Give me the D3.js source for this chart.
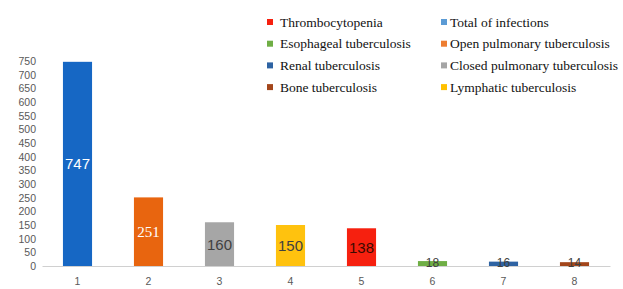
<!DOCTYPE html>
<html>
<head>
<meta charset="utf-8">
<script src="https://cdn.jsdelivr.net/npm/d3@7"></script>
<style>
  body { margin: 0; background: #fff; overflow: hidden; }
  svg { display: block; }
</style>
</head>
<body>
<div id="chart"></div>
<script>
var categories = ["1", "2", "3", "4", "5", "6", "7", "8"];
var values = [747, 251, 160, 150, 138, 18, 16, 14];
var barColors = ["#1667c4", "#e8650f", "#a6a6a6", "#ffc20e", "#f6200f", "#6fae45", "#2e63a3", "#a3461b"];
var labelColors = ["#ffffff", "#ffffff", "#404040", "#404040", "#3a0a00", "#404040", "#404040", "#404040"];
var yTicks = d3.range(0, 751, 50);

var legendNames = ["Thrombocytopenia", "Esophageal tuberculosis", "Renal tuberculosis", "Bone tuberculosis",
                   "Total of infections", "Open pulmonary tuberculosis", "Closed pulmonary tuberculosis", "Lymphatic tuberculosis"];
var legendColors = ["#f6200f", "#6fae45", "#2e63a3", "#a3461b", "#5b9bd5", "#ed7d31", "#a5a5a5", "#ffc000"];

var width = 623, height = 289;
var serif = "Liberation Serif, Times New Roman, DejaVu Serif, serif";
var sans = "Liberation Sans, Arial, sans-serif";

var svg = d3.select("#chart").append("svg")
    .attr("width", width)
    .attr("height", height);

var x = d3.scaleBand()
    .domain(categories)
    .range([42, 610])
    .paddingInner(0.59)
    .paddingOuter(0.295);

var y = d3.scaleLinear()
    .domain([0, 750])
    .range([266, 61]);

// y labels (no axis line)
var yAxis = svg.append("g")
    .attr("transform", "translate(39,0)")
    .call(d3.axisLeft(y).tickValues(yTicks).tickSize(0).tickPadding(3));
yAxis.select(".domain").remove();
yAxis.selectAll("text")
    .attr("fill", "#595959")
    .attr("font-family", sans)
    .attr("font-size", 10.5);

svg.selectAll("rect.bar")
    .data(values)
    .enter().append("rect")
    .attr("class", "bar")
    .attr("x", (d, i) => x(categories[i]))
    .attr("y", d => y(d))
    .attr("width", x.bandwidth())
    .attr("height", d => y(0) - y(d))
    .attr("fill", (d, i) => barColors[i]);

// baseline
var xAxis = svg.append("g")
    .attr("transform", "translate(0,266)")
    .call(d3.axisBottom(x).tickSize(0).tickPadding(12).tickSizeOuter(0));
xAxis.select(".domain").attr("stroke", "#d0d0d0");
xAxis.selectAll("text")
    .attr("fill", "#595959")
    .attr("font-family", sans)
    .attr("font-size", 10.5);

svg.selectAll("text.vlabel")
    .data(values)
    .enter().append("text")
    .attr("class", "vlabel")
    .attr("text-anchor", "middle")
    .attr("dominant-baseline", "central")
    .attr("x", (d, i) => x(categories[i]) + x.bandwidth() / 2)
    .attr("y", d => (y(d) + y(0)) / 2 + (d > 100 ? 0 : -1))
    .attr("fill", (d, i) => labelColors[i])
    .attr("font-family", (d, i) => i == 1 ? serif : sans)
    .attr("font-size", d => d > 100 ? 15 : 12)
    .text(d => d);

// legend, two columns
var lg = svg.append("g").selectAll("g")
    .data(legendNames)
    .enter().append("g")
    .attr("transform", (d, i) => "translate(" + (i < 4 ? 267 : 441) + "," + (22 + (i % 4) * 21.7) + ")");

lg.append("rect")
    .attr("x", 0)
    .attr("y", -3)
    .attr("width", 6)
    .attr("height", 6)
    .attr("fill", (d, i) => legendColors[i]);

lg.append("text")
    .attr("x", (d, i) => i < 4 ? 13 : 9)
    .attr("dominant-baseline", "central")
    .attr("font-family", serif)
    .attr("font-size", 13.5)
    .attr("fill", "#111")
    .text(d => d);
</script>
</body>
</html>
